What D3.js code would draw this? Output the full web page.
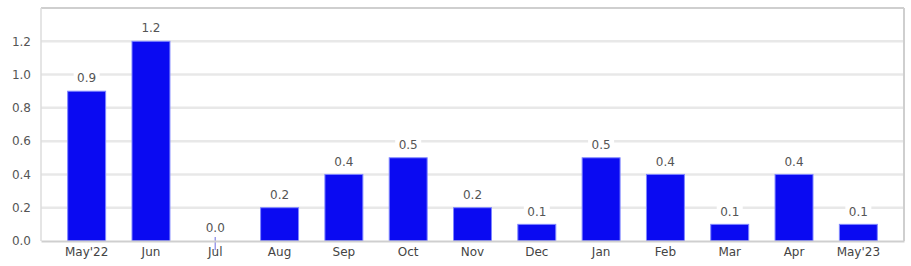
<!DOCTYPE html>
<html>
<head>
<meta charset="utf-8">
<script src="https://cdn.jsdelivr.net/npm/d3@7"></script>
<style>
  body { margin: 0; background: #fff; }
  text { font-family: "DejaVu Sans", sans-serif; }
</style>
</head>
<body>
<script>
var months = ["May'22", "Jun", "Jul", "Aug", "Sep", "Oct", "Nov", "Dec", "Jan", "Feb", "Mar", "Apr", "May'23"];
var values = [0.9, 1.2, 0.0, 0.2, 0.4, 0.5, 0.2, 0.1, 0.5, 0.4, 0.1, 0.4, 0.1];
var yTicks = [0, 0.2, 0.4, 0.6, 0.8, 1.0, 1.2];

var width = 911, height = 266;
var padL = 41, padR = 904, padT = 8, padB = 241;

var svg = d3.select("body").append("svg")
  .attr("width", width)
  .attr("height", height);

var x = d3.scaleBand().domain(months).range([padL, padR]).paddingInner(0.41).paddingOuter(0.415);
var y = d3.scaleLinear().domain([0, 1.4]).range([padB, padT]);

// grid lines
svg.selectAll("line.grid")
  .data(yTicks.slice(1))
  .enter().append("line")
  .attr("class", "grid")
  .attr("x1", padL).attr("x2", padR)
  .attr("y1", function(d) { return y(d); })
  .attr("y2", function(d) { return y(d); })
  .attr("stroke", "#e8e8e8")
  .attr("stroke-width", 2.5);

// frame
svg.append("line").attr("x1", padL).attr("x2", padR).attr("y1", padT).attr("y2", padT)
  .attr("stroke", "#cfcfcf").attr("stroke-width", 2);
svg.append("line").attr("x1", padR).attr("x2", padR).attr("y1", padT).attr("y2", padB)
  .attr("stroke", "#cfcfcf").attr("stroke-width", 2);
svg.append("line").attr("x1", padL).attr("x2", padL).attr("y1", padT).attr("y2", padB)
  .attr("stroke", "#dcdcdc").attr("stroke-width", 1.5);

// y axis
var yAxis = svg.append("g")
  .attr("transform", "translate(" + (padL - 7) + ",0)")
  .call(d3.axisLeft(y).tickValues(yTicks).tickFormat(d3.format(".1f")).tickSize(0));
yAxis.select(".domain").remove();
yAxis.selectAll("text").attr("fill", "#555").style("font-size", "12px");

// bars
svg.selectAll("rect.bar")
  .data(values)
  .enter().append("rect")
  .attr("class", "bar")
  .attr("x", function(d, i) { return x(months[i]); })
  .attr("width", x.bandwidth())
  .attr("y", function(d) { return y(d); })
  .attr("height", function(d) { return y(0) - y(d); })
  .attr("fill", "#0a0af2")
  .attr("stroke", "#7f86ff")
  .attr("stroke-width", 1);

// zero-value marker
svg.selectAll("line.zero")
  .data(values.map(function(d, i) { return {v: d, m: months[i]}; }).filter(function(d) { return d.v === 0; }))
  .enter().append("line")
  .attr("x1", function(d) { return x(d.m) + x.bandwidth() / 2; })
  .attr("x2", function(d) { return x(d.m) + x.bandwidth() / 2; })
  .attr("y1", y(0) - 4).attr("y2", y(0) + 9)
  .attr("stroke", "#9b9bea").attr("stroke-width", 1.5);

// x axis
var xAxis = svg.append("g")
  .attr("transform", "translate(0," + padB + ")")
  .call(d3.axisBottom(x).tickSize(0).tickPadding(6));
xAxis.select(".domain").attr("stroke", "#cfcfcf").attr("stroke-width", 2);
xAxis.selectAll("text").attr("fill", "#444").style("font-size", "12px");

// value labels
var labels = svg.selectAll("g.lbl")
  .data(values)
  .enter().append("g")
  .attr("class", "lbl")
  .attr("transform", function(d, i) {
    return "translate(" + (x(months[i]) + x.bandwidth() / 2) + "," + (y(d) - 13) + ")";
  });
labels.append("rect")
  .attr("x", -13).attr("y", -7).attr("width", 26).attr("height", 14)
  .attr("fill", "#fff");
labels.append("text")
  .attr("text-anchor", "middle")
  .attr("dy", "0.35em")
  .attr("fill", "#555")
  .style("font-size", "12px")
  .text(function(d) { return d3.format(".1f")(d); });
</script>
</body>
</html>
